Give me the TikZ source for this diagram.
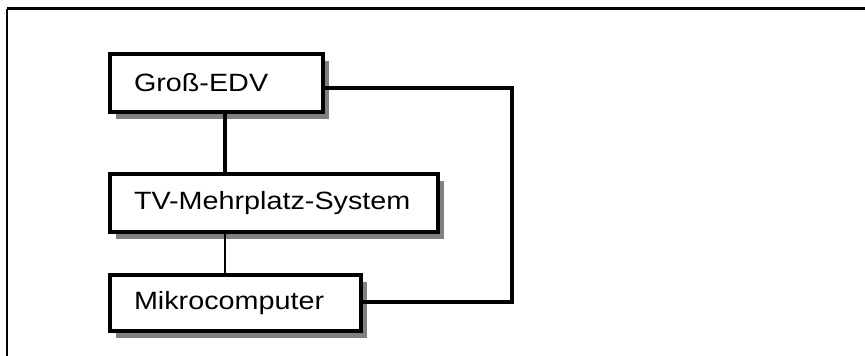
\documentclass[tikz,border=0pt]{standalone}
\usepackage{fontspec}
\setmainfont{Liberation Sans}
\newfontfamily\boxfont[FakeStretch=1.15]{Liberation Sans}
\usetikzlibrary{positioning,shadows}

\begin{document}
\begin{tikzpicture}[x=1pt, y=-1pt,
  main node/.style={draw, line width=4pt, fill=white, anchor=north west,
    minimum height=58pt, inner xsep=24pt, inner ysep=0pt, align=left,
    font=\boxfont\fontsize{25pt}{30pt}\selectfont,
    drop shadow={shadow xshift=6pt, shadow yshift=-7pt, fill=black!50, opacity=1}},
  link/.style={line width=3.3pt}]
\useasboundingbox (0,0) rectangle (865,356);
\draw[line width=2.3pt] (7,8.5) -- (865,8.5);
\draw[line width=1.8pt] (7,8.5) -- (7,356);

\node[main node, text width=165pt] (gross) at (108,52) {Groß-EDV};
\node[main node, text width=280pt, below right=58pt and 0pt of gross.south west] (tv) {TV-Mehrplatz-System};
\node[main node, text width=203pt, minimum height=56pt, below right=39pt and 0pt of tv.south west] (mikro) {Mikrocomputer};

\coordinate (trunk) at (225,0);
\coordinate (loopA) at (512,88);
\coordinate (loopB) at (512,302);
\draw[link, line width=4pt] (gross.south -| trunk) -- (tv.north -| trunk);
\draw[link, line width=2.7pt] (tv.south -| trunk) -- (mikro.north -| trunk);
\draw[link] (gross.east |- loopA) -- (loopA) -- (loopB) -- (mikro.east |- loopB);
\end{tikzpicture}
\end{document}
